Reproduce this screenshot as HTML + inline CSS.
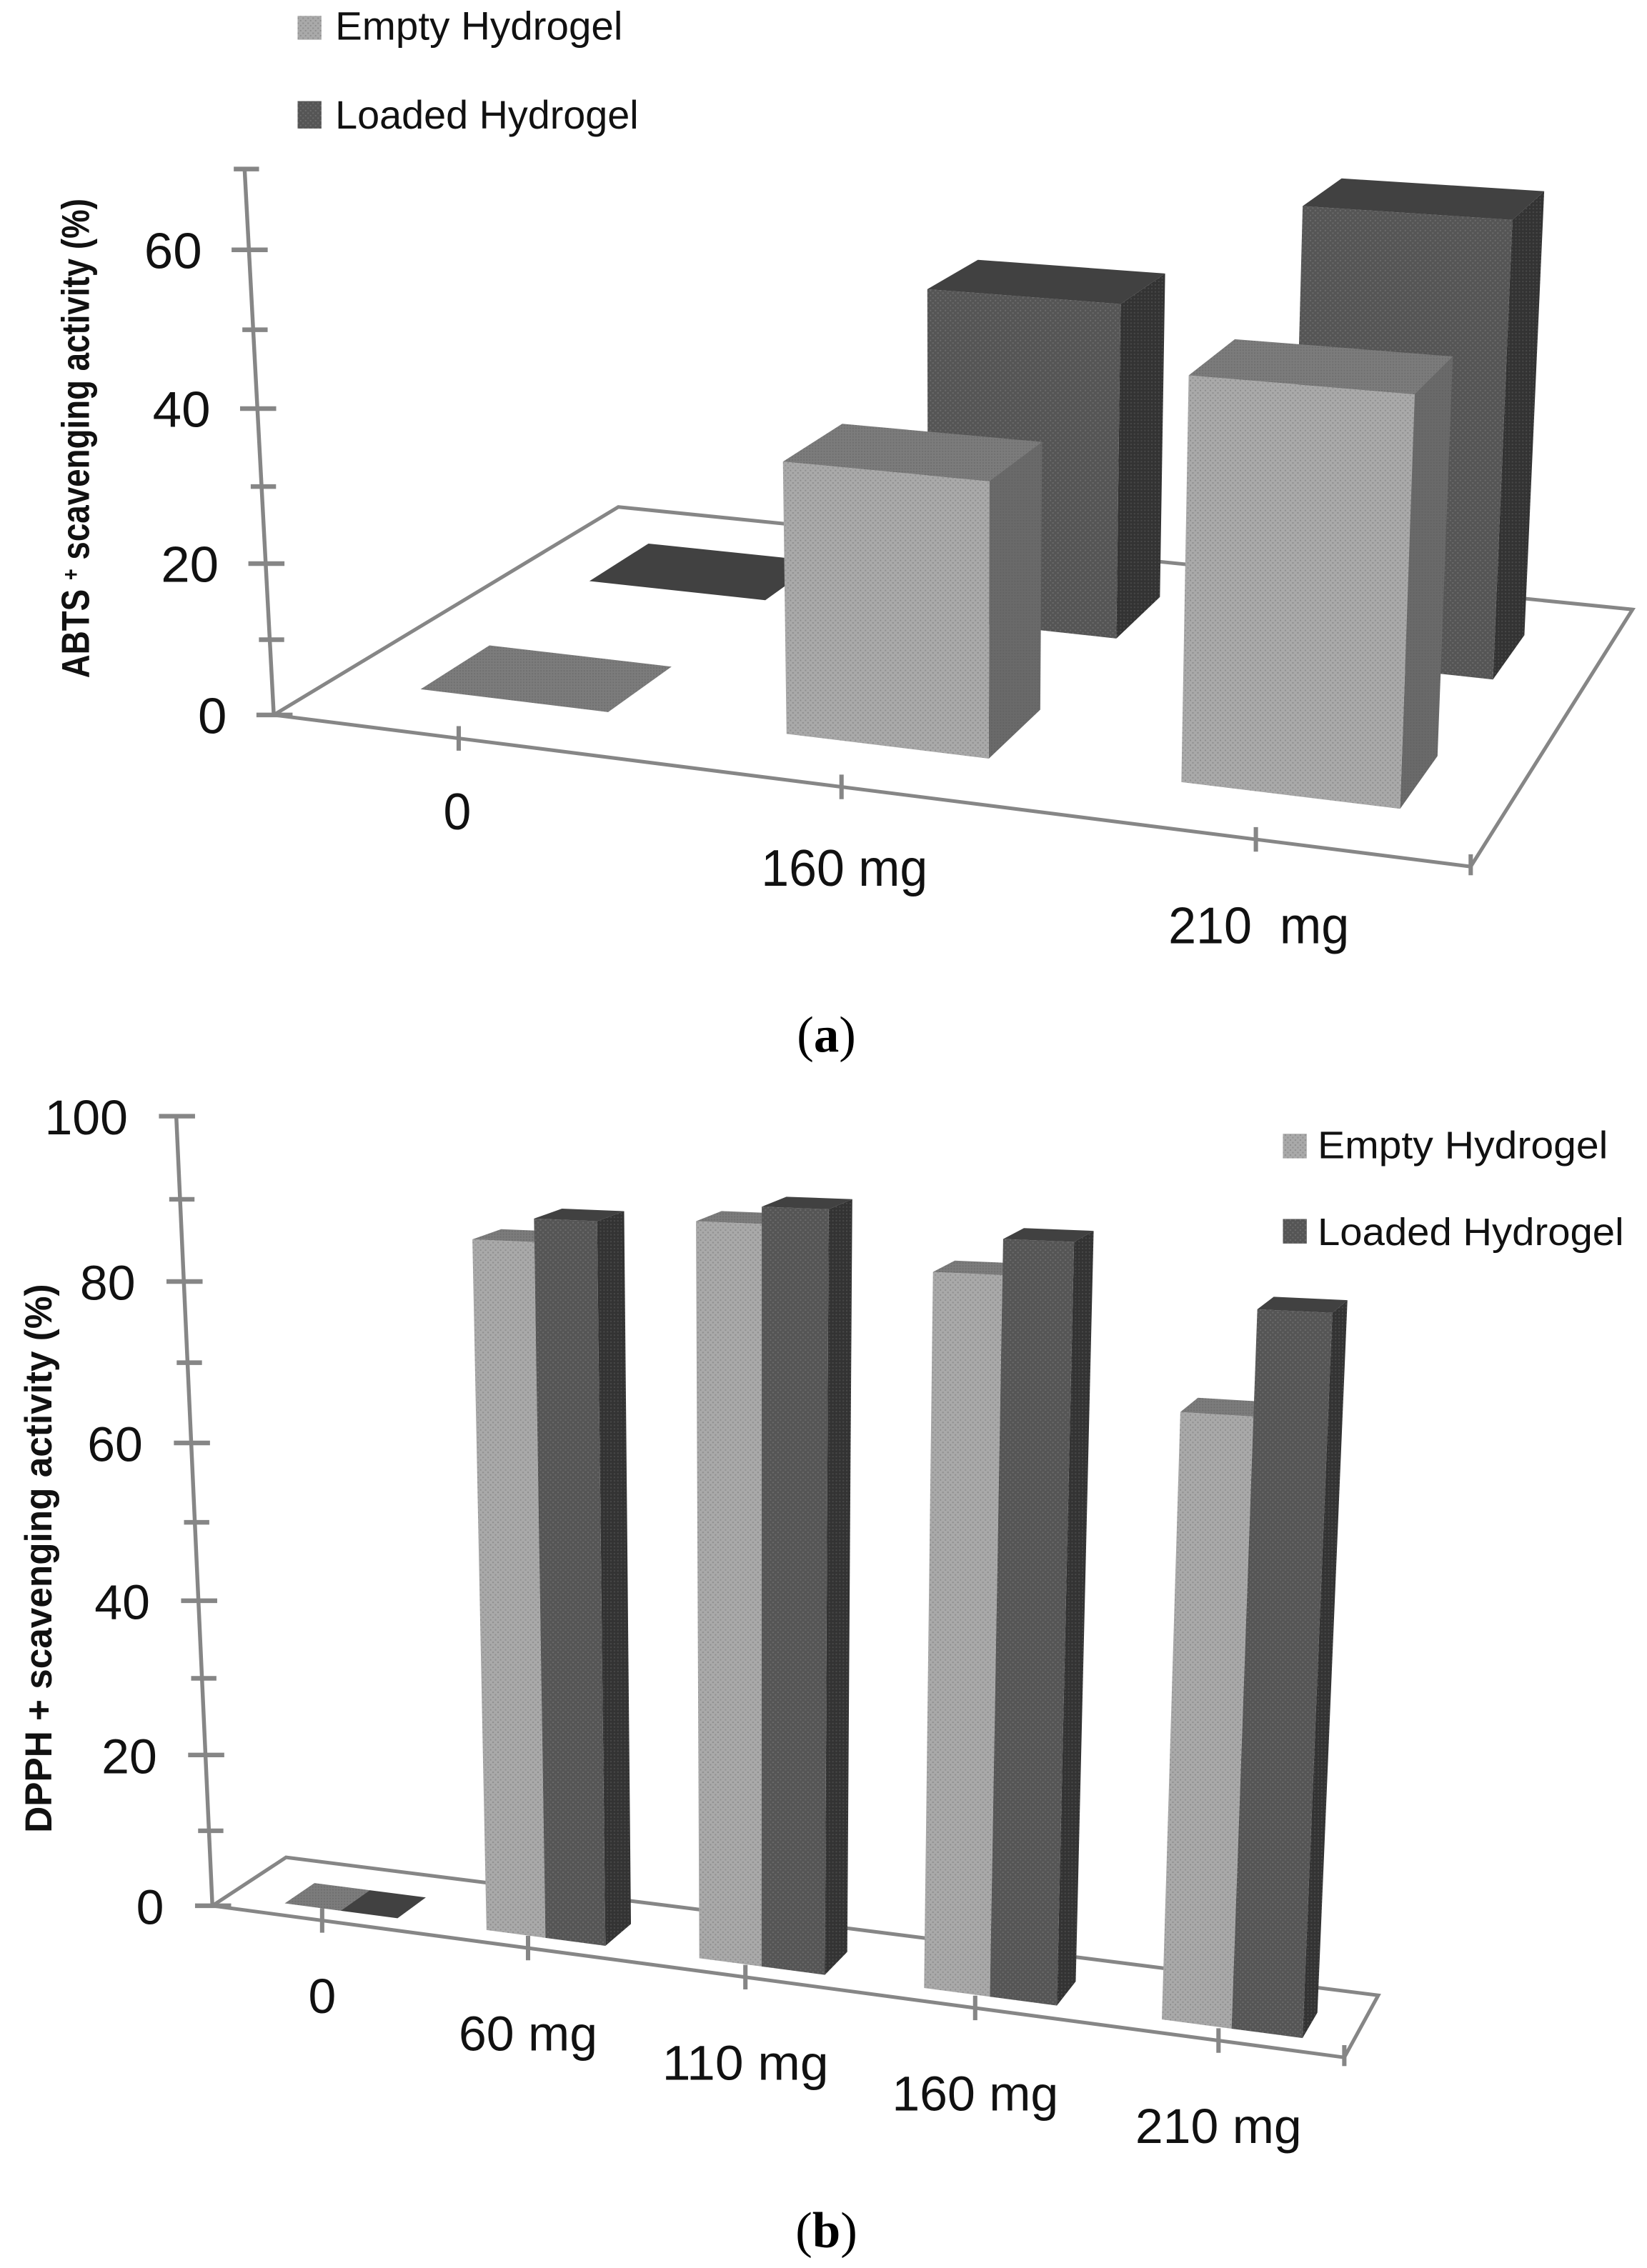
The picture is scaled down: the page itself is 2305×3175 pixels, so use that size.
<!DOCTYPE html>
<html lang="en">
<head>
<meta charset="utf-8">
<title>ABTS and DPPH scavenging activity</title>
<style>
html,body{margin:0;padding:0;background:#fff;width:2305px;height:3175px;overflow:hidden}
svg{display:block}
text{font-family:"Liberation Sans",sans-serif;fill:#111;white-space:pre}
.caption{font-family:"Liberation Serif",serif;fill:#000}
</style>
</head>
<body>
<svg id="figure" xmlns="http://www.w3.org/2000/svg" width="2305" height="3175" viewBox="0 0 2305 3175">
  <defs>
    <pattern id="emptyFront" width="3.46" height="3.46" patternUnits="userSpaceOnUse">
      <rect width="3.46" height="3.46" fill="#a9a9a9"/>
      <rect x="0" y="0" width="1" height="1" fill="#8f8f8f"/>
      <rect x="1.73" y="1.73" width="1" height="1" fill="#8f8f8f"/>
    </pattern>
    <pattern id="emptyTop" width="2" height="2" patternUnits="userSpaceOnUse">
      <rect width="2" height="2" fill="#7c7c7c"/>
      <rect width="1" height="1" fill="#6f6f6f"/>
    </pattern>
    <pattern id="emptySide" width="2" height="2" patternUnits="userSpaceOnUse">
      <rect width="2" height="2" fill="#6a6a6a"/>
      <rect width="1" height="1" fill="#636363"/>
    </pattern>
    <pattern id="loadedFront" width="3.46" height="3.46" patternUnits="userSpaceOnUse">
      <rect width="3.46" height="3.46" fill="#555555"/>
      <rect x="0" y="0" width="1" height="1" fill="#6b6b6b"/>
      <rect x="1.73" y="1.73" width="1" height="1" fill="#6b6b6b"/>
    </pattern>
    <pattern id="loadedSide" width="2.4" height="2.4" patternUnits="userSpaceOnUse">
      <rect width="2.4" height="2.4" fill="#333333"/>
      <rect width="1" height="1" fill="#484848"/>
    </pattern>
  </defs>
  <g id="root" transform="scale(2.0219)"></g>
</svg>
<script>
const categoriesA = ['0', '160 mg', '210  mg'];
const emptyA = [0, 35.1, 50.1];
const loadedA = [0, 46, 60.6];
const yTicksA = [0, 20, 40, 60];
const yMinorA = [10, 30, 50, 70];

const categoriesB = ['0', '60 mg', '110 mg', '160 mg', '210 mg'];
const emptyB = [0, 86, 89.2, 84.6, 70.45];
const loadedB = [0, 88.75, 91.15, 88.6, 82.15];
const yTicksB = [0, 20, 40, 60, 80, 100];
const yMinorB = [10, 30, 50, 70, 90];

const NS = 'http://www.w3.org/2000/svg';
const root = document.getElementById('root');
const AXIS = '#868686';

function make(tag, parent) {
  const node = document.createElementNS(NS, tag);
  parent.appendChild(node);
  return node;
}

function poly(parent, pts, fill, name) {
  const p = make('polygon', parent);
  p.setAttribute('points', pts.map(q => q[0].toFixed(2) + ',' + q[1].toFixed(2)).join(' '));
  p.setAttribute('fill', fill);
  
  
  return p;
}

function seg(parent, a, b, width, name) {
  const l = make('line', parent);
  l.setAttribute('x1', a[0]);
  l.setAttribute('y1', a[1]);
  l.setAttribute('x2', b[0]);
  l.setAttribute('y2', b[1]);
  l.setAttribute('stroke', AXIS);
  l.setAttribute('stroke-width', width);
  
  
  return l;
}

function label(parent, str, x, y, size, len, anchor, name) {
  const t = make('text', parent);
  t.textContent = str;
  t.setAttribute('x', x);
  t.setAttribute('y', y);
  t.setAttribute('font-size', size);
  t.setAttribute('text-anchor', anchor);
  t.setAttribute('textLength', len);
  t.setAttribute('lengthAdjust', 'spacingAndGlyphs');
  
  
  return t;
}

// Perspective scene: floor homography from four corners, plus a vertical vanishing point.
function makeScene(c, vp, vi) {
  const dx1 = c[1][0] - c[2][0], dx2 = c[3][0] - c[2][0], sx = c[0][0] - c[1][0] + c[2][0] - c[3][0];
  const dy1 = c[1][1] - c[2][1], dy2 = c[3][1] - c[2][1], sy = c[0][1] - c[1][1] + c[2][1] - c[3][1];
  const den = dx1 * dy2 - dx2 * dy1;
  const g = (sx * dy2 - dx2 * sy) / den;
  const h = (dx1 * sy - sx * dy1) / den;
  const a = c[1][0] - c[0][0] + g * c[1][0], b = c[3][0] - c[0][0] + h * c[3][0];
  const d = c[1][1] - c[0][1] + g * c[1][1], e = c[3][1] - c[0][1] + h * c[3][1];
  return function (u, v, val) {
    const w = g * u + h * v + 1 + vi * val;
    return [
      (a * u + b * v + c[0][0] + vi * vp[0] * val) / w,
      (d * u + e * v + c[0][1] + vi * vp[1] * val) / w
    ];
  };
}

function drawFloor(g, P, key) {
  const pts = [P(0, 0, 0), P(1, 0, 0), P(1, 1, 0), P(0, 1, 0)];
  const f = poly(g, pts, '#ffffff', key + '-floor');
  f.setAttribute('stroke', AXIS);
  f.setAttribute('stroke-width', '2.5');
  const e = P(1, 0, 0);
  seg(g, [e[0], e[1] - 8.5], [e[0], e[1] + 6], 3, key + '-x-end-tick');
}

function drawValueAxis(g, P, ticks, minor, top, key, labelGap, labelSize, labelW) {
  seg(g, P(0, 0, 0), P(0, 0, top), 2.7, key + '-y-axis');
  minor.forEach(v => {
    const p = P(0, 0, v);
    seg(g, [p[0] - 7.5, p[1]], [p[0] + 10, p[1]], 3.2, key + '-y-minor-tick');
  });
  ticks.forEach(v => {
    const p = P(0, 0, v);
    seg(g, [p[0] - 12, p[1]], [p[0] + 13, p[1]], 3.2, key + '-y-major-tick');
    const s = String(v);
    label(g, s, p[0] - labelGap, p[1] + 12.7, labelSize, labelW * s.length, 'end', key + '-y-tick-label');
  });
}

function drawCategoryAxis(g, P, cats, key, scale, shift, offFirst, offRest, offStep, dxFirst, dxRest, fontSize) {
  cats.forEach((name, i) => {
    const u = (i + 0.5) / cats.length * scale + shift;
    const p = P(u, 0, 0);
    seg(g, [p[0], p[1] - 8.5], [p[0], p[1] + 8.5], 3, key + '-x-tick');
    const hasGap = name.indexOf('  ') >= 0;
    const w = name.replace(/ +/g, ' ').length * 19.2 + (hasGap ? 10 : 0);
    const off = i === 0 ? offFirst : offRest + offStep * i;
    label(g, name, p[0] + (i ? dxRest : dxFirst), p[1] + off, fontSize, w, 'middle', key + '-x-tick-label');
  });
}

function drawBar(g, P, u0, u1, v0, v1, val, series, key) {
  const tops = series === 'empty' ? ['url(#emptyFront)', 'url(#emptyTop)', 'url(#emptySide)'] : ['url(#loadedFront)', '#414141', 'url(#loadedSide)'];
  if (val > 0) {
    poly(g, [P(u1, v0, 0), P(u1, v1, 0), P(u1, v1, val), P(u1, v0, val)], tops[2], key + '-' + series + '-bar-side');
    poly(g, [P(u0, v0, 0), P(u1, v0, 0), P(u1, v0, val), P(u0, v0, val)], tops[0], key + '-' + series + '-bar-front');
  }
  poly(g, [P(u0, v0, val), P(u1, v0, val), P(u1, v1, val), P(u0, v1, val)], tops[1], key + '-' + series + '-bar-top');
}

function swatch(g, x, y, w, h, fill, name) {
  const r = make('rect', g);
  r.setAttribute('x', x);
  r.setAttribute('y', y);
  r.setAttribute('width', w);
  r.setAttribute('height', h);
  r.setAttribute('fill', fill);
  
  
}

function yTitle(g, parts, cx, cy, size, len, name) {
  const t = make('text', g);
  t.setAttribute('transform', 'translate(' + cx + ',' + cy + ') rotate(-90)');
  t.setAttribute('text-anchor', 'middle');
  t.setAttribute('font-size', size);
  t.setAttribute('font-weight', 'bold');
  t.setAttribute('textLength', len);
  t.setAttribute('lengthAdjust', 'spacingAndGlyphs');
  
  
  parts.forEach(part => {
    const s = make('tspan', t);
    s.textContent = part[0];
    if (part[1]) {
      s.setAttribute('dy', part[1]);
    }
    if (part[2]) {
      s.setAttribute('font-size', part[2]);
    }
  });
}

function caption(g, letter, x, y, name) {
  const t = make('text', g);
  t.setAttribute('class', 'caption');
  t.setAttribute('x', x);
  t.setAttribute('y', y);
  t.setAttribute('font-size', 35);
  t.setAttribute('text-anchor', 'middle');
  
  
  const a = make('tspan', t);
  a.textContent = '(';
  const b = make('tspan', t);
  b.textContent = letter;
  b.setAttribute('font-weight', 'bold');
  const c = make('tspan', t);
  c.textContent = ')';
}

/* ---------- chart (a) ---------- */
const gA = make('g', root);


const PA = makeScene([[189.5, 495], [1018, 600], [1130, 422], [428, 351]], [660, 9300], -0.000588);

swatch(gA, 206, 11, 16.5, 16.5, 'url(#emptyFront)', 'legend-swatch-empty');
label(gA, 'Empty Hydrogel', 232, 27.5, 27.5, 199, 'start', 'legend-label-empty');
swatch(gA, 206, 70, 16.5, 19, 'url(#loadedFront)', 'legend-swatch-loaded');
label(gA, 'Loaded Hydrogel', 232, 89, 27.5, 210, 'start', 'legend-label-loaded');

yTitle(gA, [['ABTS '], ['+', -7, 16], [' scavenging activity (%)', 7, 27]], 61.5, 303.5, 27, 332, 'abts-y-axis-title');
drawFloor(gA, PA, 'abts');
drawValueAxis(gA, PA, yTicksA, yMinorA, 70, 'abts', 32.5, 35, 20);
drawCategoryAxis(gA, PA, categoriesA, 'abts', 1, 0.004, 63, 65, 3.5, -1, 2, 36);
categoriesA.forEach((c, i) => {
  const uc = (i + 0.5) / categoriesA.length + 0.003;
  drawBar(gA, PA, uc - 0.088, uc + 0.088, 0.645, 0.84, loadedA[i], 'loaded', 'abts-' + i);
});
categoriesA.forEach((c, i) => {
  const uc = (i + 0.5) / categoriesA.length + 0.003;
  drawBar(gA, PA, uc - 0.087, uc + 0.087, 0.15, 0.34, emptyA[i], 'empty', 'abts-' + i);
});
caption(gA, 'a', 572, 728, 'panel-a-caption');

/* ---------- chart (b) ---------- */
const gB = make('g', root);


const floorB = [[147, 1319.5], [930.5, 1424.5], [954, 1381.5], [198, 1286]];
const PB = makeScene(floorB, [525, 10570], -0.000558);
const PBaxis = makeScene(floorB, [570, 10570], -0.000558);

swatch(gB, 888, 785, 16.5, 17, 'url(#emptyFront)', 'legend-swatch-empty');
label(gB, 'Empty Hydrogel', 912, 802, 26.5, 201, 'start', 'legend-label-empty');
swatch(gB, 888, 844, 16.5, 17, 'url(#loadedFront)', 'legend-swatch-loaded');
label(gB, 'Loaded Hydrogel', 912, 862, 26.5, 212, 'start', 'legend-label-loaded');

yTitle(gB, [['DPPH + scavenging activity (%)']], 35.5, 1079, 26, 380, 'dpph-y-axis-title');
drawFloor(gB, PB, 'dpph');
drawValueAxis(gB, PBaxis, yTicksB, yMinorB, 100, 'dpph', 33.5, 34, 19.2);
drawCategoryAxis(gB, PB, categoriesB, 'dpph', 0.99, 0.011, 64, 71, 0, 0, 0, 34);
categoriesB.forEach((c, i) => {
  const uc = (i + 0.5) / categoriesB.length * 0.99 + 0.015;
  drawBar(gB, PB, uc - 0.056, uc, 0.2, 0.61, emptyB[i], 'empty', 'dpph-' + i);
  drawBar(gB, PB, uc, uc + 0.056, 0.2, 0.61, loadedB[i], 'loaded', 'dpph-' + i);
});
caption(gB, 'b', 572, 1556, 'panel-b-caption');
</script>
</body>
</html>
